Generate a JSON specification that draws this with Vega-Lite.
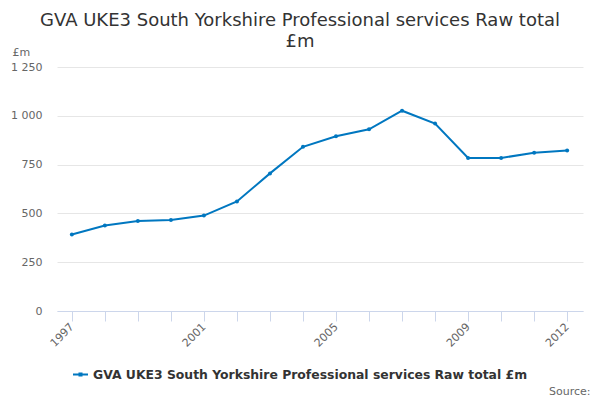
{
  "$schema": "https://vega.github.io/schema/vega-lite/v6.json",
  "autosize": {"type": "none"},
  "width": 526,
  "height": 244,
  "padding": {"left": 57, "top": 67, "right": 17, "bottom": 89},
  "background": "white",
  "config": {
    "font": "DejaVu Sans",
    "view": {"stroke": null}
  },
  "title": {
    "text": ["GVA UKE3 South Yorkshire Professional services Raw total", "£m"],
    "fontSize": 18,
    "fontWeight": "normal",
    "color": "#333333",
    "font": "DejaVu Sans",
    "lineHeight": 21,
    "anchor": "middle",
    "frame": "group",
    "dx": -20,
    "dy": 13,
    "offset": 8
  },
  "data": {
    "values": [
      {"year": 1997, "value": 392, "series": "GVA UKE3 South Yorkshire Professional services Raw total £m"},
      {"year": 1998, "value": 438, "series": "GVA UKE3 South Yorkshire Professional services Raw total £m"},
      {"year": 1999, "value": 461, "series": "GVA UKE3 South Yorkshire Professional services Raw total £m"},
      {"year": 2000, "value": 466, "series": "GVA UKE3 South Yorkshire Professional services Raw total £m"},
      {"year": 2001, "value": 489, "series": "GVA UKE3 South Yorkshire Professional services Raw total £m"},
      {"year": 2002, "value": 561, "series": "GVA UKE3 South Yorkshire Professional services Raw total £m"},
      {"year": 2003, "value": 705, "series": "GVA UKE3 South Yorkshire Professional services Raw total £m"},
      {"year": 2004, "value": 841, "series": "GVA UKE3 South Yorkshire Professional services Raw total £m"},
      {"year": 2005, "value": 895, "series": "GVA UKE3 South Yorkshire Professional services Raw total £m"},
      {"year": 2006, "value": 931, "series": "GVA UKE3 South Yorkshire Professional services Raw total £m"},
      {"year": 2007, "value": 1026, "series": "GVA UKE3 South Yorkshire Professional services Raw total £m"},
      {"year": 2008, "value": 960, "series": "GVA UKE3 South Yorkshire Professional services Raw total £m"},
      {"year": 2009, "value": 784, "series": "GVA UKE3 South Yorkshire Professional services Raw total £m"},
      {"year": 2010, "value": 784, "series": "GVA UKE3 South Yorkshire Professional services Raw total £m"},
      {"year": 2011, "value": 811, "series": "GVA UKE3 South Yorkshire Professional services Raw total £m"},
      {"year": 2012, "value": 822, "series": "GVA UKE3 South Yorkshire Professional services Raw total £m"}
    ]
  },
  "mark": {"type": "line", "strokeWidth": 2, "point": {"filled": true, "size": 16}},
  "encoding": {
    "x": {
      "field": "year",
      "type": "quantitative",
      "scale": {"domain": [1996.55, 2012.48], "nice": false, "zero": false},
      "axis": {
        "title": "Source:",
        "titleFont": "DejaVu Sans",
        "titleFontSize": 11,
        "titleFontWeight": "normal",
        "titleColor": "#666666",
        "titleAnchor": "end",
        "titleAlign": "right",
        "titleBaseline": "middle",
        "titleX": 533,
        "titleY": 80,
        "values": [1997, 1998, 1999, 2000, 2001, 2002, 2003, 2004, 2005, 2006, 2007, 2008, 2009, 2010, 2011, 2012],
        "labelExpr": "indexof([1997, 2001, 2005, 2009, 2012], datum.value) >= 0 ? format(datum.value, 'd') : ''",
        "labelAngle": -45,
        "labelAlign": "right",
        "labelBaseline": "middle",
        "labelFontSize": 11,
        "labelColor": "#666666",
        "labelPadding": 4,
        "labelOverlap": false,
        "labelFlush": false,
        "tickSize": 10,
        "tickColor": "#ccd6eb",
        "domainColor": "#ccd6eb",
        "grid": false
      }
    },
    "y": {
      "field": "value",
      "type": "quantitative",
      "scale": {"domain": [0, 1250], "nice": false},
      "axis": {
        "title": "£m",
        "titleAngle": 0,
        "titleAlign": "left",
        "titleBaseline": "middle",
        "titleX": -45,
        "titleY": -15,
        "titleFontSize": 11,
        "titleFontWeight": "normal",
        "titleColor": "#666666",
        "values": [0, 250, 500, 750, 1000, 1250],
        "labelExpr": "replace(format(datum.value, ','), ',', ' ')",
        "labelFontSize": 11,
        "labelColor": "#666666",
        "labelPadding": 15,
        "ticks": false,
        "domain": false,
        "gridColor": "#e6e6e6",
        "gridWidth": 1
      }
    },
    "color": {
      "field": "series",
      "type": "nominal",
      "scale": {"range": ["#0077c0"]},
      "legend": {
        "title": null,
        "orient": "none",
        "legendX": 16,
        "legendY": 300,
        "labelFontSize": 12.4,
        "labelFontWeight": "bold",
        "labelColor": "#333333",
        "labelLimit": 600,
        "labelOffset": 5,
        "symbolType": "M-1,-0.13H1V0.13H-1Z M-0.27,-0.27H0.27V0.27H-0.27Z",
        "symbolSize": 225,
        "symbolStrokeWidth": 0,
        "symbolOpacity": 1
      }
    }
  }
}
